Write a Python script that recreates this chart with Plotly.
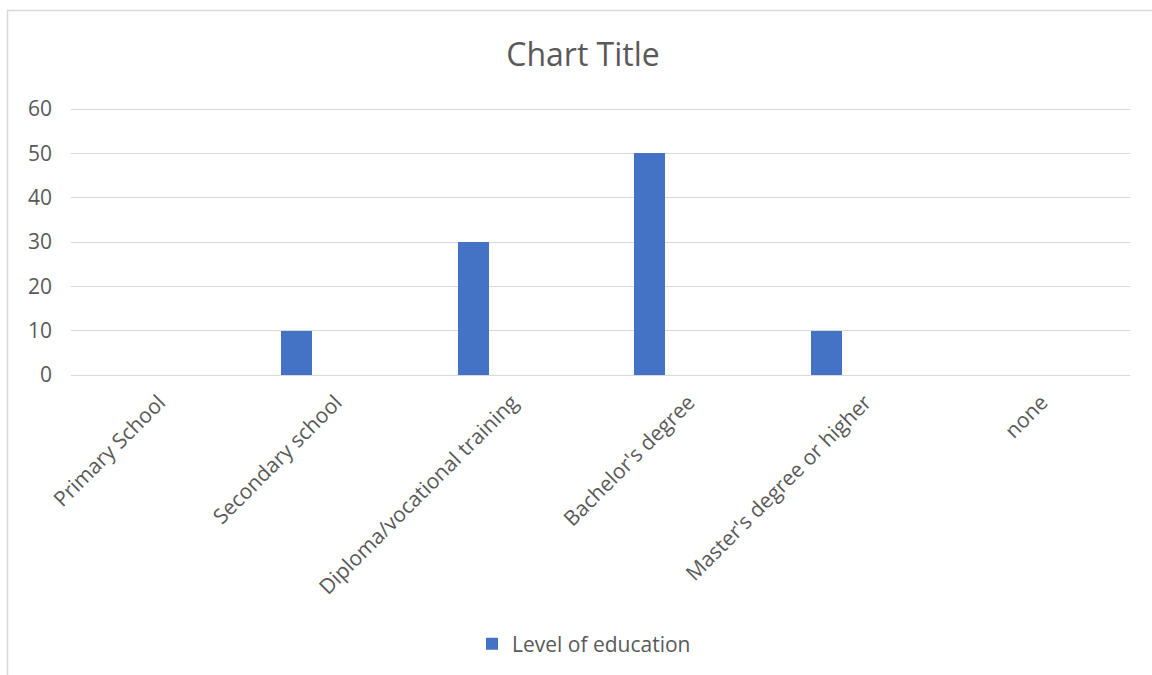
import plotly.graph_objects as go

categories = [
    "Primary School",
    "Secondary school",
    "Diploma/vocational training",
    "Bachelor's degree",
    "Master's degree or higher",
    "none",
]
values = [0, 10, 30, 50, 10, 0]
series_name = "Level of education"
y_ticks = [0, 10, 20, 30, 40, 50, 60]

W, H = 1152, 675
ML, MR, MT, MB = 71, 22, 107, 300
PW, PH = W - ML - MR, H - MT - MB
# 60 sits 2px below the top of the plotting area so its gridline is kept
Y_TOP = 60 * PH / (PH - 2)

FONT = "Open Sans"
GREY = "#595959"
BLUE = "#4472C4"
FS = 21


def px_x(p):
    return (p - ML) / PW


def px_y(p):
    return (H - MB - p) / PH


fig = go.Figure()
fig.add_trace(
    go.Bar(
        x=categories,
        y=values,
        name=series_name,
        marker=dict(color=BLUE, line=dict(width=0)),
        width=0.176,
        offset=-0.31,
        showlegend=True,
    )
)

fig.update_layout(
    width=W,
    height=H,
    margin=dict(l=ML, r=MR, t=MT, b=MB, autoexpand=False),
    paper_bgcolor="white",
    plot_bgcolor="white",
    font=dict(family=FONT, color=GREY, size=FS),
    title=dict(
        text="Chart Title",
        x=583 / W,
        xanchor="center",
        xref="container",
        y=1 - 55 / H,
        yanchor="middle",
        yref="container",
        font=dict(family=FONT, size=32, color=GREY),
    ),
    bargap=0,
    xaxis=dict(
        type="category",
        tickangle=-45,
        showgrid=False,
        showline=False,
        zeroline=False,
        ticks="",
        ticklabelstandoff=10,
        tickfont=dict(family=FONT, size=FS, color=GREY),
        range=[-0.5, 5.5],
        fixedrange=True,
    ),
    yaxis=dict(
        range=[0, Y_TOP],
        tickvals=y_ticks,
        showgrid=True,
        gridcolor="#d9d9d9",
        gridwidth=1,
        zeroline=True,
        zerolinecolor="#d9d9d9",
        zerolinewidth=1,
        showline=False,
        ticks="",
        ticklabelstandoff=18,
        tickfont=dict(family=FONT, size=FS, color=GREY),
        fixedrange=True,
    ),
    legend=dict(
        orientation="h",
        x=px_x(472),
        xanchor="left",
        y=px_y(644),
        yanchor="middle",
        font=dict(family=FONT, size=FS, color=GREY),
        bgcolor="rgba(0,0,0,0)",
        itemwidth=30,
    ),
    shapes=[
        dict(
            type="rect",
            xref="paper",
            yref="paper",
            x0=px_x(7.5),
            x1=px_x(1160),
            y0=px_y(690),
            y1=px_y(10.5),
            line=dict(color="#d9d9d9", width=1.5),
            fillcolor="rgba(0,0,0,0)",
            layer="below",
        )
    ],
)

fig.write_html("out.html")
